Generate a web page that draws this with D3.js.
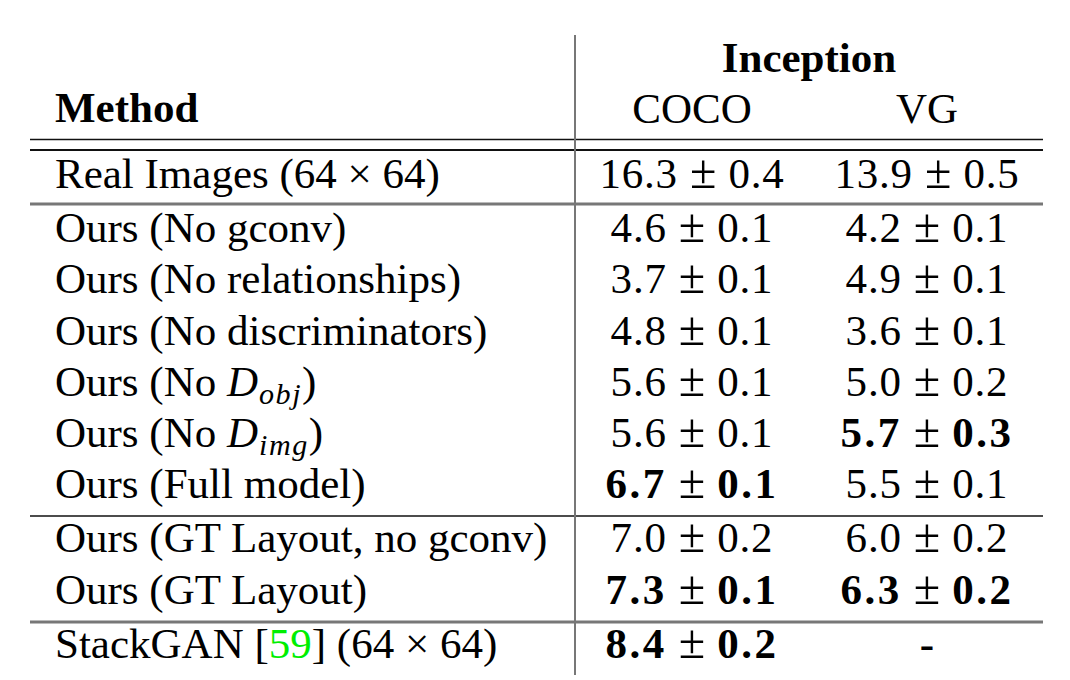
<!DOCTYPE html>
<html>
<head>
<meta charset="utf-8">
<script src="https://cdn.jsdelivr.net/npm/d3@7"></script>
<style>
  body { margin: 0; background: #fff; }
  svg text { font-family: "Liberation Serif", "Times New Roman", serif; fill: #000; }
</style>
</head>
<body>
<div id="chart"></div>
<script>
// table content
const columns = ["COCO", "VG"];
const methods = [
  "Real Images (64 × 64)",
  "Ours (No gconv)",
  "Ours (No relationships)",
  "Ours (No discriminators)",
  "Ours (No D_obj)",
  "Ours (No D_img)",
  "Ours (Full model)",
  "Ours (GT Layout, no gconv)",
  "Ours (GT Layout)",
  "StackGAN [59] (64 × 64)"
];
// which block each row belongs to
const groups = [0, 1, 1, 1, 1, 1, 1, 2, 2, 3];
const cocoMean = ["16.3", "4.6", "3.7", "4.8", "5.6", "5.6", "6.7", "7.0", "7.3", "8.4"];
const cocoStd  = ["0.4", "0.1", "0.1", "0.1", "0.1", "0.1", "0.1", "0.2", "0.1", "0.2"];
const vgMean   = ["13.9", "4.2", "4.9", "3.6", "5.0", "5.7", "5.5", "6.0", "6.3", null];
const vgStd    = ["0.5", "0.1", "0.1", "0.1", "0.2", "0.3", "0.1", "0.2", "0.2", null];
const cocoBold = [false, false, false, false, false, false, true, false, true, true];
const vgBold   = [false, false, false, false, false, true, false, false, true, false];

const W = 1070, H = 680;
const fs = 43;

const svg = d3.select("#chart").append("svg")
  .attr("width", W)
  .attr("height", H);

// row baselines: even step plus a small gap at each block change
const rowY = d3.scaleLinear().domain([0, methods.length - 1]).range([188, 188 + 51.2 * 9]);
const yOf = (i) => rowY(i) + groups[i] * 3;
const colX = d3.scalePoint().domain(columns).range([692, 927]);

const left = 30, right = 1043, sepX = 575, textX = 55;

// ---------- rules ----------
const rules = [
  { y: 139.5, w: 1.3, c: "#111" },
  { y: 150, w: 2.2, c: "#111" },
  { y: 204, w: 2.8, c: "#777" },
  { y: 516, w: 1.5, c: "#111" },
  { y: 622, w: 2.8, c: "#777" }
];
svg.selectAll("line.rule")
  .data(rules)
  .join("line")
  .attr("class", "rule")
  .attr("x1", left).attr("x2", right)
  .attr("y1", d => d.y).attr("y2", d => d.y)
  .attr("stroke", d => d.c)
  .attr("stroke-width", d => d.w);

svg.append("line")
  .attr("x1", sepX).attr("x2", sepX)
  .attr("y1", 35).attr("y2", 675)
  .attr("stroke", "#777")
  .attr("stroke-width", 2);

// ---------- header ----------
svg.append("text")
  .attr("x", textX).attr("y", 122)
  .attr("font-size", fs).attr("font-weight", "bold")
  .text("Method");
svg.append("text")
  .attr("x", 809).attr("y", 72)
  .attr("text-anchor", "middle")
  .attr("font-size", fs).attr("font-weight", "bold")
  .text("Inception");
svg.selectAll("text.colhead")
  .data(columns)
  .join("text")
  .attr("class", "colhead")
  .attr("x", d => colX(d)).attr("y", 123)
  .attr("text-anchor", "middle")
  .attr("font-size", fs)
  .text(d => d);

// ---------- method labels ----------
methods.forEach((m, i) => {
  const t = svg.append("text")
    .attr("x", textX).attr("y", yOf(i))
    .attr("font-size", fs);
  const sub = m.match(/^(.*)D_(\w+)(\).*)$/);
  if (sub) {
    t.append("tspan").text(sub[1]);
    t.append("tspan").attr("font-style", "italic").text("D");
    t.append("tspan").attr("font-style", "italic").attr("font-size", fs * 0.7)
      .attr("dy", 8).attr("dx", 1).attr("letter-spacing", 1.5).text(sub[2]);
    t.append("tspan").attr("dy", -8).text(sub[3]);
  } else if (m.includes("[59]")) {
    const parts = m.split("59");
    t.append("tspan").text(parts[0]);
    t.append("tspan").style("fill", "#00ee00").text("59");
    t.append("tspan").text(parts[1]);
  } else {
    t.text(m);
  }
});

// ---------- score cells ----------
function cell(x, y, mean, std, bold) {
  const t = svg.append("text")
    .attr("x", x).attr("y", y)
    .attr("text-anchor", "middle")
    .attr("font-size", fs);
  if (mean === null) {
    t.attr("font-weight", "bold").text("-");
    return;
  }
  const ls = bold ? 2.5 : 0.8;
  t.append("tspan").attr("font-weight", bold ? "bold" : "normal")
    .attr("letter-spacing", ls).text(mean);
  t.append("tspan").attr("font-size", fs * 1.12).text(" ± ");
  t.append("tspan").attr("font-weight", bold ? "bold" : "normal")
    .attr("letter-spacing", ls).text(std);
}

methods.forEach((m, i) => {
  cell(colX("COCO"), yOf(i), cocoMean[i], cocoStd[i], cocoBold[i]);
  cell(colX("VG"), yOf(i), vgMean[i], vgStd[i], vgBold[i]);
});
</script>
</body>
</html>
